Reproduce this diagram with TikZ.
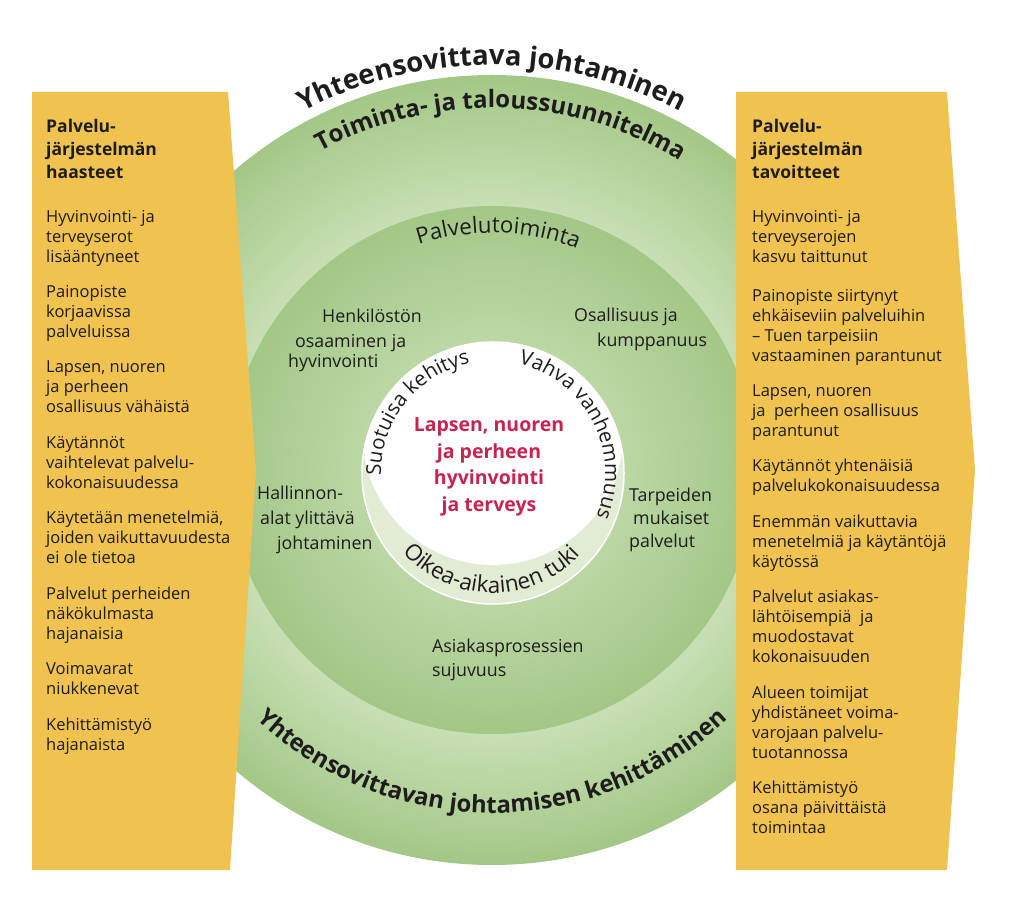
\documentclass[tikz,border=0pt]{standalone}
\usepackage{fontspec}
\setmainfont{Open Sans}
\usetikzlibrary{decorations.text,calc}
\definecolor{ink}{RGB}{30,28,28}
\definecolor{panel}{RGB}{240,194,80}
\definecolor{crimson}{RGB}{200,36,80}
\definecolor{pale}{RGB}{226,236,213}
\definecolor{gOutC}{RGB}{214,231,197}
\definecolor{gOutM}{RGB}{200,223,180}
\definecolor{gOutE}{RGB}{163,199,134}
\definecolor{gMidC}{RGB}{205,226,187}
\definecolor{gMidI}{RGB}{188,215,165}
\definecolor{gMidE}{RGB}{163,199,135}
\pgfdeclareradialshading{outershade}{\pgfpoint{0bp}{0bp}}{color(0bp)=(gOutC);color(16.7bp)=(gOutM);color(25bp)=(gOutE);color(50bp)=(gOutE)}
\pgfdeclareradialshading{midshade}{\pgfpoint{0bp}{0bp}}{color(0bp)=(gMidC);color(12.4bp)=(gMidI);color(25bp)=(gMidE);color(50bp)=(gMidE)}
\tikzset{
  para/.style={font=\fontsize{16.5}{20}\selectfont, text=ink, inner sep=0pt, anchor=north west, align=left},
  ptitle/.style={font=\bfseries\fontsize{17.5}{23}\selectfont, text=ink, inner sep=0pt, anchor=north west, align=left},
  glabel/.style={font=\fontsize{17.8}{20}\selectfont, text=ink, inner sep=0pt, anchor=base west},
  centretext/.style={font=\bfseries\fontsize{19.5}{26.5}\selectfont, text=crimson, inner sep=0pt, align=center},
  panelshape/.style={fill=panel, draw=none},
}
\begin{document}
\begin{tikzpicture}[x=1pt,y=1pt]
\useasboundingbox (0,0) rectangle (1024,899);
\fill[white] (0,0) rectangle (1024,899);
\coordinate (C) at (492,429);
\coordinate (C1) at (493,426);
\coordinate (C2) at (493,464);
% discs
\shade[shading=outershade] (C) circle[radius=395];
\shade[shading=midshade] (C) circle[radius=264];
\fill[pale] (C1) circle[radius=131];
\begin{scope}
  \clip (C1) circle[radius=131];
  \fill[white] (C2) circle[radius=130];
\end{scope}
\draw[white, line width=1.5] (C1) circle[radius=131];
% curved texts
\path[decorate, decoration={text along path, text align=center, text color=ink,
  text={|\bfseries\fontsize{27.5}{27.5}\selectfont|Yhteensovittava johtaminen}}]
  ($(C)+(125:405)$) arc[start angle=125, end angle=55, radius=405];
\path[decorate, decoration={text along path, text align=center, text color=ink,
  text={|\bfseries\fontsize{24}{24}\selectfont|Toiminta- ja taloussuunnitelma}}]
  ($(C)+(150:362)$) arc[start angle=150, end angle=27, radius=362];
\path[decorate, decoration={text along path, text align=center, text color=ink,
  text={|\fontsize{22.3}{22.3}\selectfont|Palvelutoiminta}}]
  ($(C)+(150:237)$) arc[start angle=150, end angle=27, radius=237];
\path[decorate, decoration={text along path, text align=center, text color=ink,
  text={|\bfseries\fontsize{23.8}{23.8}\selectfont|Yhteensovittavan johtamisen kehittäminen}}]
  ($(C)+(200:343)$) arc[start angle=200, end angle=340, radius=343];
\path[decorate, decoration={text along path, text align=center, text color=ink,
  text={|\fontsize{20.5}{20.5}\selectfont|Suotuisa kehitys}}]
  ($(C1)+(200:112)$) arc[start angle=200, end angle=83, radius=112];
\path[decorate, decoration={text along path, text align=center, text color=ink,
  text={|\fontsize{20.5}{20.5}\selectfont|Vahva vanhemmuus}}]
  ($(C1)+(86:112)$) arc[start angle=86, end angle=-32, radius=112];
\path[decorate, decoration={text along path, text align=center, text color=ink,
  text={|\fontsize{22.5}{22.5}\selectfont|Oikea-aikainen tuki}}]
  ($(C1)+(199:120)$) arc[start angle=199, end angle=339, radius=120];
% centre text
\node[centretext] (centre) at (489,432) {Lapsen, nuoren\\ja perheen\\hyvinvointi\\ja terveys};
% green labels
\node[glabel] (hen1) at (322,576) {Henkilöstön};
\node[glabel] (hen2) at (295,551) {osaaminen ja};
\node[glabel] (hen3) at (288,531) {hyvinvointi};
\node[glabel] (osa1) at (574,577) {Osallisuus ja};
\node[glabel] (osa2) at (597,552) {kumppanuus};
\node[glabel] (hal1) at (257,399) {Hallinnon-};
\node[glabel] (hal2) at (260,374) {alat ylittävä};
\node[glabel] (hal3) at (277,349) {johtaminen};
\node[glabel] (tar1) at (629,397) {Tarpeiden};
\node[glabel] (tar2) at (633,374) {mukaiset};
\node[glabel] (tar3) at (629,351) {palvelut};
\node[glabel] (asi1) at (432,246) {Asiakasprosessien};
\node[glabel] (asi2) at (432,222) {sujuvuus};
% panels
\fill[panelshape] (32,807) -- (228,807) -- (256,429) -- (230,29) -- (32,29) -- cycle;
\fill[panelshape] (736,807) -- (947,807) -- (975,429) -- (947,29) -- (736,29) -- cycle;
% left panel text
\node[ptitle] (lt) at (46,783) {\strut Palvelu-\\järjestelmän\\haasteet};
\node[para] (l1) at (46,691) {\strut Hyvinvointi- ja\\terveyserot\\lisääntyneet};
\node[para] (l2) at (46,616) {\strut Painopiste\\korjaavissa\\palveluissa};
\node[para] (l3) at (46,541) {\strut Lapsen, nuoren\\ja perheen\\osallisuus vähäistä};
\node[para] (l4) at (46,465) {\strut Käytännöt\\vaihtelevat palvelu-\\kokonaisuudessa};
\node[para] (l5) at (46,390) {\strut Käytetään menetelmiä,\\joiden vaikuttavuudesta\\ei ole tietoa};
\node[para] (l6) at (46,314) {\strut Palvelut perheiden\\näkökulmasta\\hajanaisia};
\node[para] (l7) at (46,239) {\strut Voimavarat\\niukkenevat};
\node[para] (l8) at (46,183) {\strut Kehittämistyö\\hajanaista};
% right panel text
\node[ptitle] (rt) at (752,783) {\strut Palvelu-\\järjestelmän\\tavoitteet};
\node[para] (r1) at (752,691) {\strut Hyvinvointi- ja\\terveyserojen\\kasvu taittunut};
\node[para] (r2) at (752,612) {\strut Painopiste siirtynyt\\ehkäiseviin palveluihin\\– Tuen tarpeisiin\\vastaaminen parantunut};
\node[para] (r3) at (752,517) {\strut Lapsen, nuoren\\ja~ perheen osallisuus\\parantunut};
\node[para] (r4) at (752,442) {\strut Käytännöt yhtenäisiä\\palvelukokonaisuudessa};
\node[para] (r5) at (752,386) {\strut Enemmän vaikuttavia\\menetelmiä ja käytäntöjä\\käytössä};
\node[para] (r6) at (752,311) {\strut Palvelut asiakas-\\lähtöisempiä~ ja\\muodostavat\\kokonaisuuden};
\node[para] (r7) at (752,215) {\strut Alueen toimijat\\yhdistäneet voima-\\varojaan palvelu-\\tuotannossa};
\node[para] (r8) at (752,120) {\strut Kehittämistyö\\osana päivittäistä\\toimintaa};
\end{tikzpicture}
\end{document}
